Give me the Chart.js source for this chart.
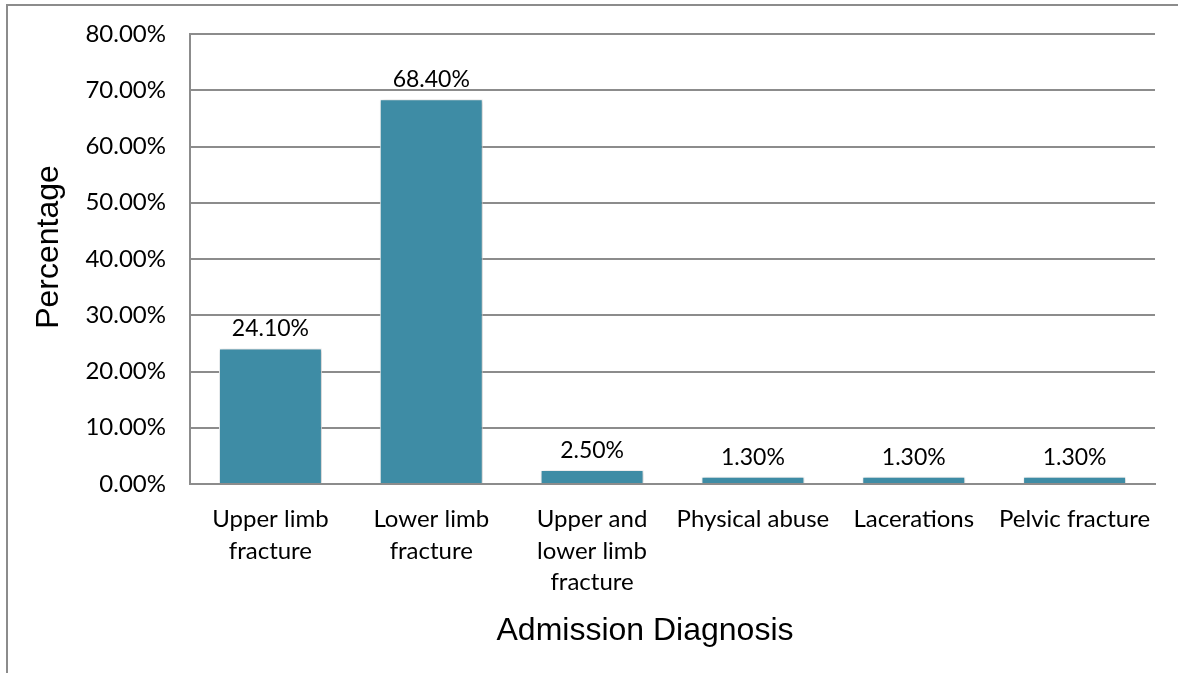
<!DOCTYPE html>
<html>
<head>
<meta charset="utf-8">
<script src="https://cdn.jsdelivr.net/npm/chart.js@4"></script>
<style>
  html, body { margin: 0; padding: 0; background: #fff; }
  #wrap { width: 1178px; height: 673px; }
</style>
</head>
<body>
<div id="wrap"><canvas id="chart" width="1178" height="673"></canvas></div>
<script>
// categories (multi-line labels as Excel wraps them)
const categories = [
  ["Upper limb", "fracture"],
  ["Lower limb", "fracture"],
  ["Upper and", "lower limb", "fracture"],
  "Physical abuse",
  "Lacerations",
  "Pelvic fracture",
];

// percentages
const percentValues = [24.1, 68.4, 2.5, 1.3, 1.3, 1.3];

// y axis ticks
const yTicks = [0, 10, 20, 30, 40, 50, 60, 70, 80];

const BAR_COLOR = "#3E8CA5";
const LINE_GREY = "#8C8C8C";
const TITLE_FONT = "32px 'Liberation Sans', Arial, sans-serif";

/* frame round the whole chart + axis titles */
const framePlugin = {
  id: "frame",
  beforeDraw(chart) {
    const ctx = chart.ctx;
    ctx.save();
    ctx.strokeStyle = "#8C8C8C";
    ctx.lineWidth = 2;
    ctx.strokeRect(7, 5, 1300, 800);
    ctx.restore();
  },
  afterDraw(chart) {
    const ctx = chart.ctx;
    ctx.save();
    ctx.font = TITLE_FONT;
    ctx.fillStyle = "#000";
    ctx.textAlign = "center";
    ctx.textBaseline = "middle";
    ctx.fillText("Admission Diagnosis", 645, 631);
    ctx.translate(49, 247);
    ctx.rotate(-Math.PI / 2);
    ctx.fillText("Percentage", 0, 0);
    ctx.restore();
  },
};

/* soft shadow under bars */
const shadowPlugin = {
  id: "barShadow",
  beforeDatasetDraw(chart) {
    const ctx = chart.ctx;
    ctx.save();
    ctx.shadowColor = "rgba(0,0,0,0.28)";
    ctx.shadowBlur = 4;
    ctx.shadowOffsetX = 1;
    ctx.shadowOffsetY = 1;
  },
  afterDatasetDraw(chart) {
    chart.ctx.restore();
  },
};

/* value labels above bars */
const valueLabels = {
  id: "valueLabels",
  afterDatasetsDraw(chart) {
    const ctx = chart.ctx;
    const meta = chart.getDatasetMeta(0);
    ctx.save();
    ctx.font = "23px Lato, 'Open Sans', sans-serif";
    ctx.fillStyle = "#000";
    ctx.textAlign = "center";
    ctx.textBaseline = "alphabetic";
    meta.data.forEach((bar, i) => {
      const txt = percentValues[i].toFixed(2) + "%";
      ctx.fillText(txt, bar.x, bar.y - 12);
    });
    ctx.restore();
  },
};

new Chart(document.getElementById("chart"), {
  type: "bar",
  data: {
    labels: categories,
    datasets: [
      {
        data: percentValues,
        backgroundColor: BAR_COLOR,
        borderColor: "#ffffff",
        borderWidth: 1,
        categoryPercentage: 0.64,
        barPercentage: 1.0,
      },
    ],
  },
  options: {
    responsive: false,
    animation: false,
    devicePixelRatio: 1,
    layout: {
      padding: { top: 34, right: 23, bottom: 0, left: 8 },
    },
    plugins: {
      legend: { display: false },
      tooltip: { enabled: false },
    },
    scales: {
      y: {
        min: 0,
        max: 80,
        afterBuildTicks(scale) {
          scale.ticks = yTicks.map((v) => ({ value: v }));
        },
        afterFit(scale) {
          scale.width = 182;
          scale.paddingTop = 0;
          scale.paddingBottom = 0;
        },
        ticks: {
          padding: 24,
          color: "#000",
          font: { family: "Lato, 'Open Sans', sans-serif", size: 24 },
          callback: (v) => v.toFixed(2) + "%",
        },
        grid: {
          color: LINE_GREY,
          lineWidth: 2,
          drawTicks: false,
        },
        border: { display: true, color: LINE_GREY, width: 2 },
      },
      x: {
        afterFit(scale) {
          scale.height = 673 - 484;
        },
        ticks: {
          padding: 20,
          color: "#000",
          maxRotation: 0,
          autoSkip: false,
          font: { family: "Lato, 'Open Sans', sans-serif", size: 24, lineHeight: 1.31 },
        },
        grid: { display: false, drawTicks: false },
        border: { display: true, color: LINE_GREY, width: 2 },
      },
    },
  },
  plugins: [framePlugin, shadowPlugin, valueLabels],
});
</script>
</body>
</html>
